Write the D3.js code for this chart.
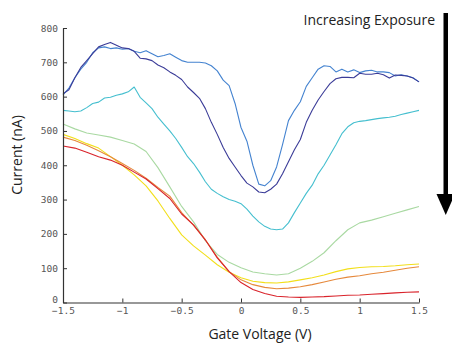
<!DOCTYPE html>
<html><head><meta charset="utf-8">
<script src="https://cdn.jsdelivr.net/npm/d3@7"></script>
<style>body{margin:0;background:#fff}svg{display:block}</style>
</head><body>
<svg id="c" width="452" height="343"></svg>
<script>
// Data
const voltageCoarse = [-1.5,-1.4,-1.3,-1.2,-1.1,-1.0,-0.9,-0.8,-0.7,-0.6,-0.5,-0.4,-0.3,-0.2,-0.1,0,0.1,0.2,0.3,0.4,0.5,0.6,0.7,0.8,0.9,1.0,1.1,1.2,1.3,1.4,1.5];
const voltageFine = [-1.5,-1.45,-1.4,-1.35,-1.3,-1.25,-1.2,-1.15,-1.1,-1.05,-1.0,-0.95,-0.9,-0.85,-0.8,-0.75,-0.7,-0.65,-0.6,-0.55,-0.5,-0.45,-0.4,-0.35,-0.3,-0.25,-0.2,-0.15,-0.1,-0.05,0,0.05,0.1,0.15,0.2,0.25,0.3,0.35,0.4,0.45,0.5,0.55,0.6,0.65,0.7,0.75,0.8,0.85,0.9,0.95,1.0,1.05,1.1,1.15,1.2,1.25,1.3,1.35,1.4,1.45,1.5];

const blueCurrent = [605,625,655,680,700,728,742,745,740,742,738,740,732,728,734,725,716,720,725,715,705,700,700,700,698,690,675,648,632,580,510,470,400,345,340,355,395,460,530,560,585,630,655,680,690,688,672,680,672,678,670,675,677,672,672,670,660,664,660,655,643];
const navyCurrent = [608,620,655,685,705,725,745,752,758,750,742,740,732,712,710,705,692,684,672,662,650,628,612,595,565,525,490,452,420,395,370,348,337,322,320,330,345,375,410,445,475,525,560,590,615,638,652,656,656,655,668,665,665,668,664,654,663,662,660,654,643];
const cyanCurrent = [560,558,556,558,568,580,584,596,598,604,608,614,628,598,582,565,540,520,500,478,452,425,405,380,352,330,318,308,300,295,288,272,252,235,222,214,212,214,232,262,290,318,342,375,400,430,460,492,512,524,528,530,533,536,538,540,543,548,552,556,560];
const greenCurrent = [520,506,494,488,482,472,462,440,393,337,280,235,180,140,117,101,89,84,80,84,100,120,145,180,212,232,240,250,260,270,280];
const yellowCurrent = [490,478,463,450,425,400,372,340,296,245,197,165,138,110,88,72,62,58,57,60,66,72,80,90,98,102,104,105,107,110,112];
const orangeCurrent = [482,472,458,442,425,405,385,362,335,310,262,225,183,132,90,66,52,44,40,42,46,52,60,68,74,78,84,88,94,100,104];
const redCurrent = [456,450,438,425,415,400,380,360,332,303,258,226,182,130,90,58,38,26,18,16,15,16,17,19,21,22,24,26,28,30,31];

const xTicks = [-1.5,-1,-0.5,0,0.5,1,1.5];
const yTicks = [0,100,200,300,400,500,600,700,800];

const series = [
  {v: voltageCoarse, c: greenCurrent, color: "#a9d9a2"},
  {v: voltageCoarse, c: yellowCurrent, color: "#f2df1a"},
  {v: voltageCoarse, c: orangeCurrent, color: "#e6893c"},
  {v: voltageCoarse, c: redCurrent, color: "#d9232b"},
  {v: voltageFine, c: cyanCurrent, color: "#45bfcf"},
  {v: voltageFine, c: blueCurrent, color: "#4483d0"},
  {v: voltageFine, c: navyCurrent, color: "#3b3c98"}
];

const svg = d3.select("#c");
const x = d3.scaleLinear().domain([-1.5,1.5]).range([63,419]);
const y = d3.scaleLinear().domain([0,800]).range([302.5,28]);

const line = d3.line().x(d => x(d[0])).y(d => y(d[1]));
series.forEach(s => {
  svg.append("path")
    .datum(s.v.map((v,i) => [v, s.c[i]]))
    .attr("d", line)
    .attr("fill","none")
    .attr("stroke", s.color)
    .attr("stroke-width", 1.1)
    .attr("stroke-linejoin","round");
});

const xAxis = svg.append("g").attr("transform","translate(0,302.5)")
  .call(d3.axisBottom(x).tickValues(xTicks).tickSize(-4).tickPadding(5).tickSizeOuter(0).tickFormat(d3.format("")));
const yAxis = svg.append("g").attr("transform","translate(63,0)")
  .call(d3.axisLeft(y).tickValues(yTicks).tickSize(-4).tickPadding(5).tickSizeOuter(0).tickFormat(d3.format("")));
[xAxis,yAxis].forEach(a => {
  a.select(".domain").attr("stroke","#333").attr("stroke-width",1.2);
  a.selectAll(".tick line").attr("stroke","#333");
  a.selectAll("text").attr("font-family","DejaVu Sans Mono").attr("font-size",9.5).attr("fill","#555");
});
// raise the "0" label slightly, as in the reference
yAxis.selectAll(".tick").filter(d => d === 0).select("text").attr("dy","0.05em");

svg.append("text").attr("transform","translate(22,155) rotate(-90)")
  .attr("text-anchor","middle").attr("font-family","Open Sans").attr("font-size",14).attr("fill","#222")
  .text("Current (nA)");
svg.append("text").attr("x",260).attr("y",339)
  .attr("text-anchor","middle").attr("font-family","Open Sans").attr("font-size",14).attr("fill","#222")
  .text("Gate Voltage (V)");
svg.append("text").attr("x",435).attr("y",25)
  .attr("text-anchor","end").attr("font-family","Open Sans").attr("font-size",14).attr("fill","#222")
  .text("Increasing Exposure");

// arrow
svg.append("rect").attr("x",443.5).attr("y",13).attr("width",4.5).attr("height",185).attr("fill","#000");
svg.append("path").attr("d", d3.line()([[436.5,194],[455,194],[445.75,215]])).attr("fill","#000");
</script>
</body></html>
